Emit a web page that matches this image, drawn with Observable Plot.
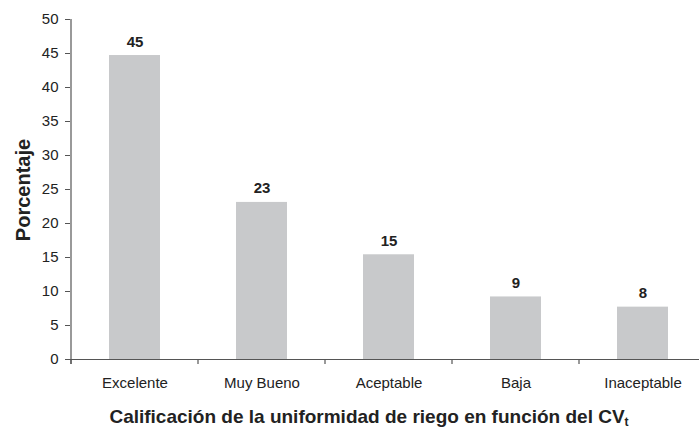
<!DOCTYPE html>
<html><head><meta charset="utf-8">
<script src="https://cdn.jsdelivr.net/npm/d3@7"></script>
<script src="https://cdn.jsdelivr.net/npm/@observablehq/plot@0.6"></script>
<style>html,body{margin:0;padding:0;background:#fff;overflow:hidden}</style>
</head><body><div id="chart"></div>
<script>
const categories = ["Excelente", "Muy Bueno", "Aceptable", "Baja", "Inaceptable"];
const values = [44.7, 23.1, 15.4, 9.2, 7.7];
const barLabels = ["45", "23", "15", "9", "8"];
const yTicks = [0, 5, 10, 15, 20, 25, 30, 35, 40, 45, 50];
const xTitle = "Calificación de la uniformidad de riego en función del CV";
const xTitleSub = "t";
const yTitle = "Porcentaje";

const data = categories.map((c, i) => ({c, v: values[i], l: barLabels[i]}));
const font = "'Liberation Sans', Arial, Helvetica, sans-serif";
const ink = "#222";
const axisColor = "#555";

const plot = Plot.plot({
  width: 699, height: 428,
  marginLeft: 70, marginRight: 0, marginTop: 19, marginBottom: 69,
  style: {fontFamily: font, color: ink, background: "#fff", overflow: "visible"},
  x: {type: "band", domain: categories, range: [70, 707.5], paddingInner: 0.6, paddingOuter: 0.3, label: null},
  y: {domain: [0, 50], label: null},
  marks: [
    Plot.barY(data, {x: "c", y: "v", fill: "#c8c9cb"}),
    Plot.ruleY([0], {stroke: axisColor, strokeWidth: 1.2}),
    Plot.axisY({ticks: yTicks, tickSize: 5, tickPadding: 7, fontSize: 15, fill: ink, stroke: axisColor, label: null}),
    Plot.axisX({tickSize: 0, tickPadding: 18, fontSize: 15, fill: ink, label: null}),
    Plot.text(data, {x: "c", y: "v", text: "l", dy: -9, lineAnchor: "bottom", fontSize: 15, fontWeight: "bold", fill: ink})
  ]
});

const svg = d3.select(plot);
const xs = plot.scale("x"), ys = plot.scale("y");
const gap = (xs.step - xs.bandwidth) / 2;
const y0 = ys.apply(0), yTop = ys.apply(50);
const g = svg.append("g").attr("stroke", axisColor).attr("stroke-width", 1.2);
// y axis line
const xAxisStart = xs.apply(categories[0]) - gap;
g.append("line").attr("x1", xAxisStart).attr("x2", xAxisStart).attr("y1", yTop).attr("y2", y0 + 5);
// x category boundary ticks
categories.forEach(c => {
  const bx = xs.apply(c) - gap;
  g.append("line").attr("x1", bx).attr("x2", bx).attr("y1", y0).attr("y2", y0 + 5);
});
// x title
const xt = svg.append("text")
  .attr("x", 369).attr("y", 423)
  .attr("text-anchor", "middle")
  .attr("font-family", font).attr("font-size", 19).attr("font-weight", "bold").attr("fill", ink);
xt.append("tspan").text(xTitle);
xt.append("tspan").attr("font-size", 12).attr("dy", 2.5).text(xTitleSub);
// y title
svg.append("text")
  .attr("transform", "translate(30,190) rotate(-90)")
  .attr("text-anchor", "middle")
  .attr("font-family", font).attr("font-size", 20).attr("font-weight", "bold").attr("fill", ink)
  .text(yTitle);

document.getElementById("chart").appendChild(plot);
</script>
</body></html>
